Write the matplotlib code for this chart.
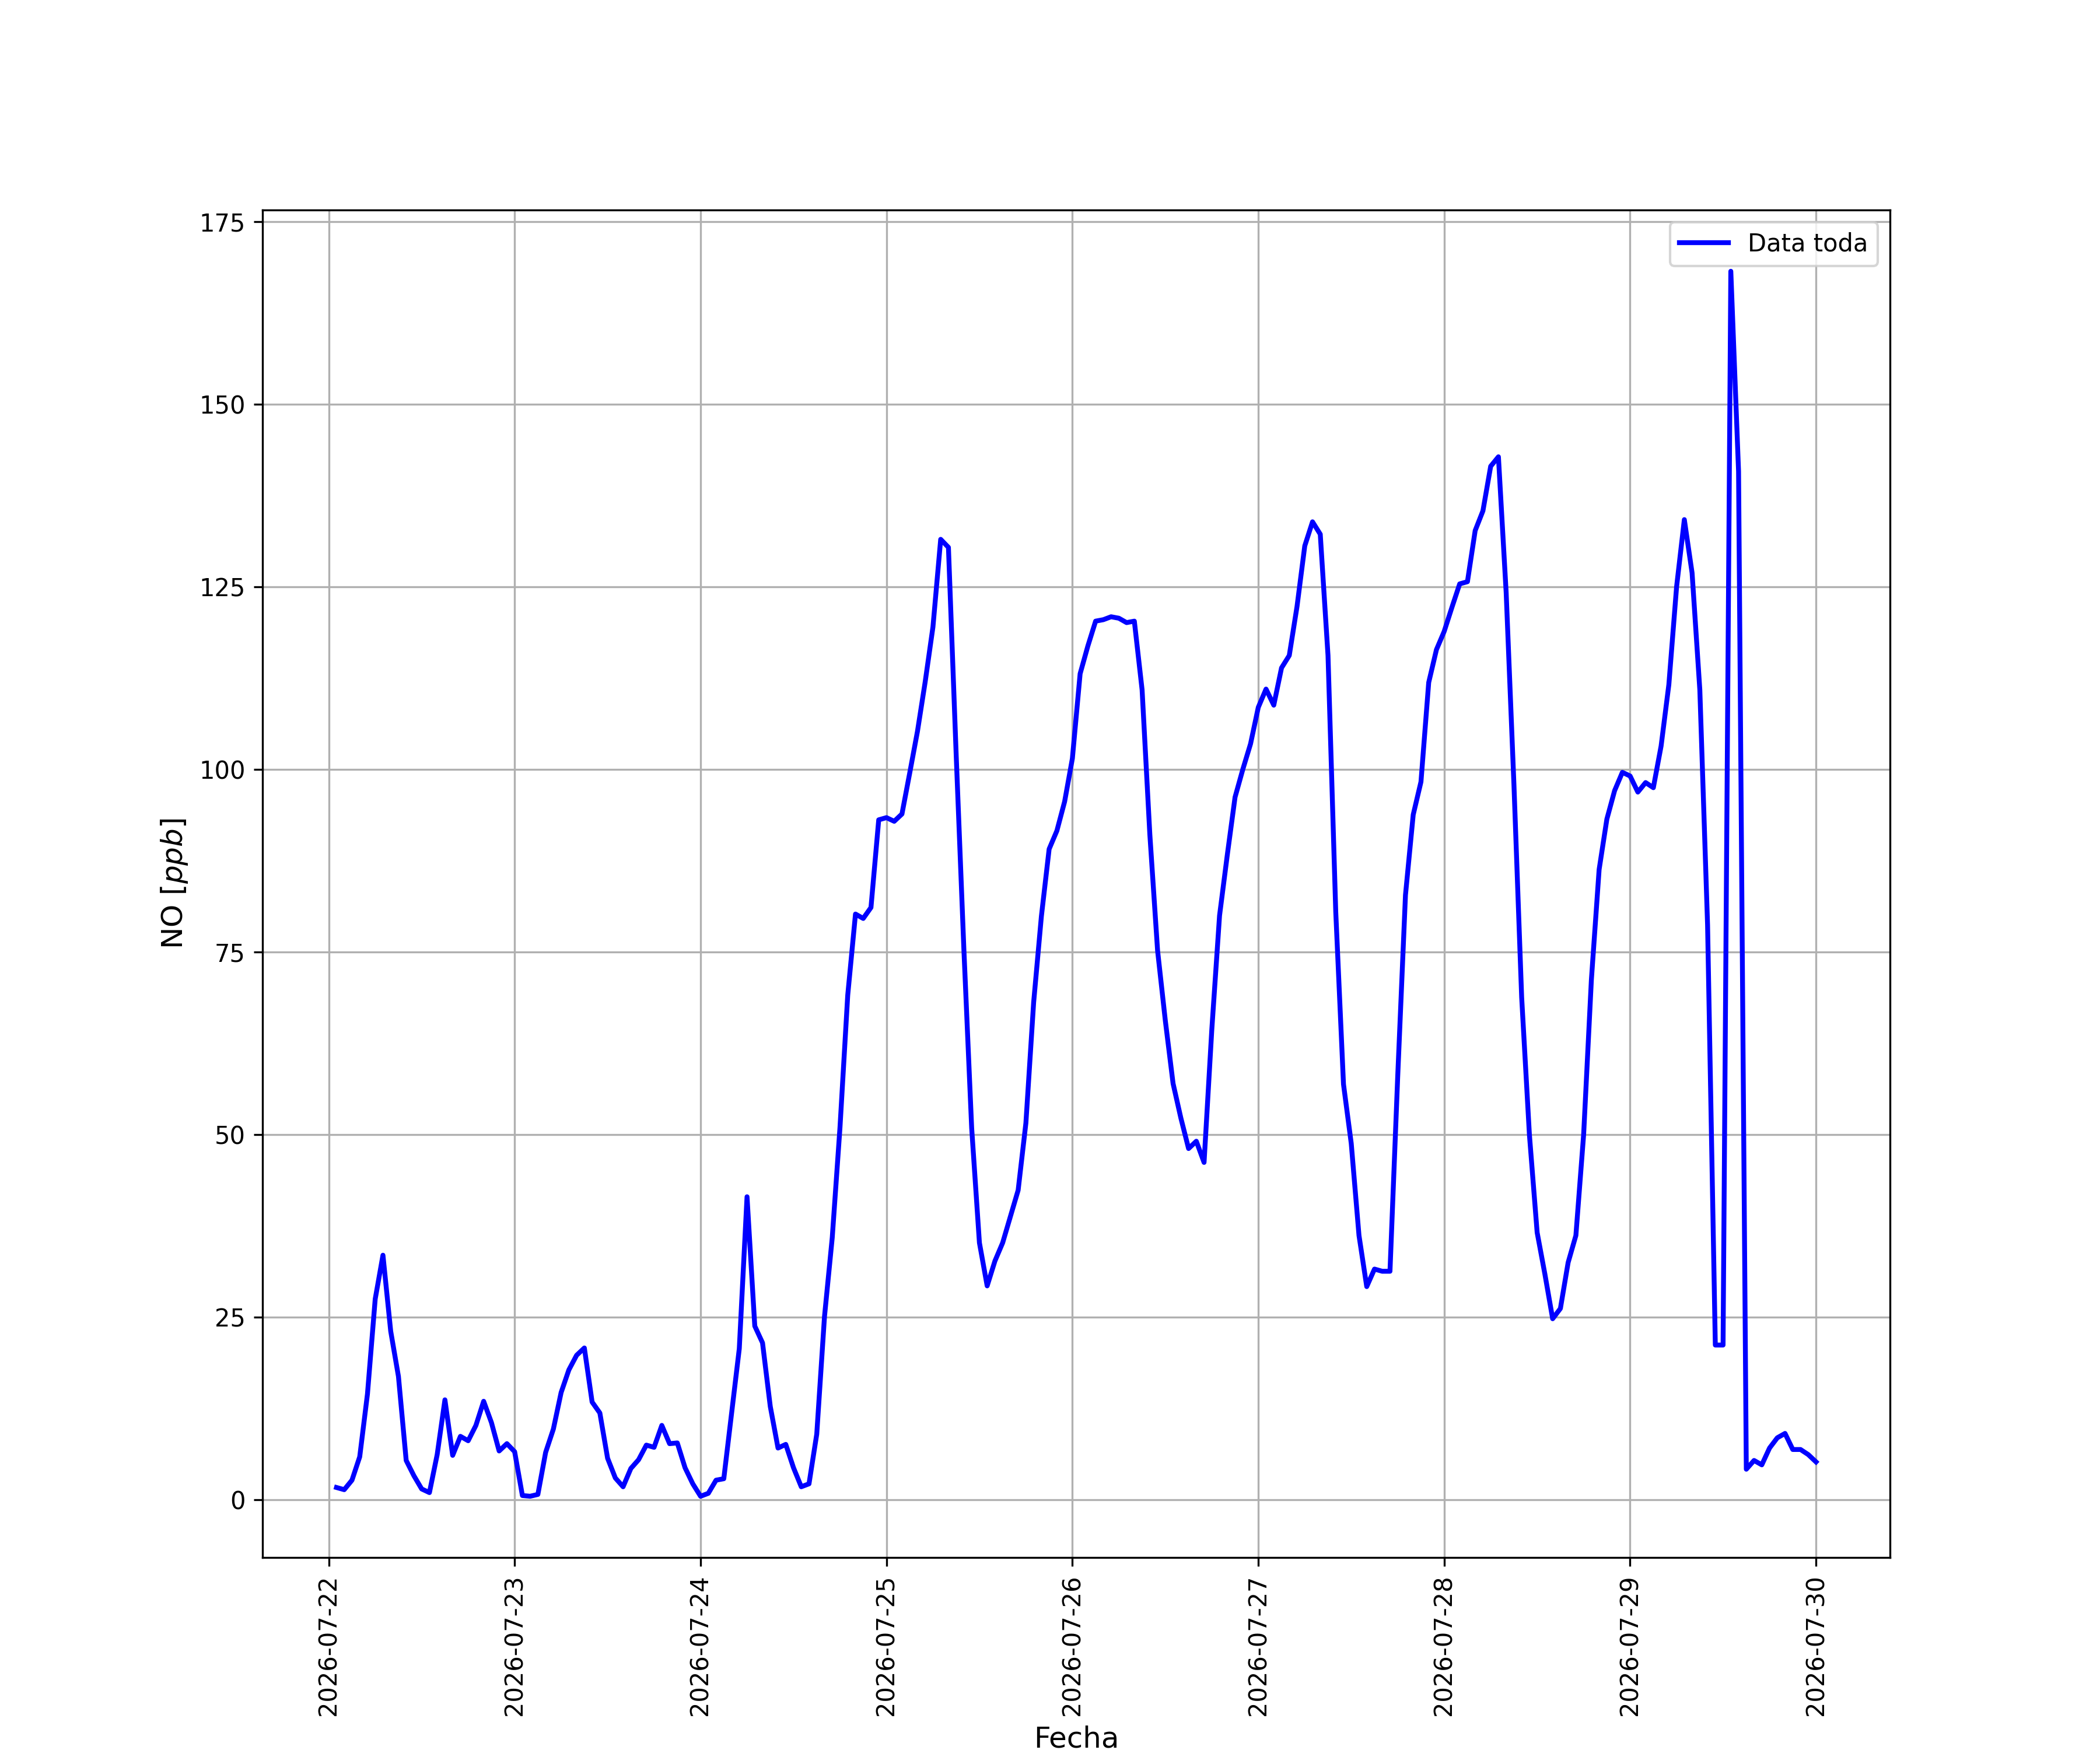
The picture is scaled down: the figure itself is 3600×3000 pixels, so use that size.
import numpy as np
import pandas as pd
import matplotlib
matplotlib.use('Agg')
import matplotlib.pyplot as plt
import matplotlib.dates as mdates

# hourly NO readings, 2026-07-22 01:00 .. 2026-07-30 00:00
no_0722 = [1.7, 1.4, 2.7, 5.9, 14.5, 27.5, 33.5, 23.1, 16.9, 5.4, 3.3, 1.5,
           1.0, 6.2, 13.7, 6.1, 8.7, 8.1, 10.2, 13.5, 10.6, 6.7, 7.7]
no_0723 = [6.6, 0.6, 0.5, 0.75, 6.5, 9.7, 14.7, 17.8, 19.8, 20.8, 13.4, 11.9,
           5.7, 3.0, 1.8, 4.3, 5.5, 7.5, 7.2, 10.2, 7.7, 7.8, 4.4, 2.2]
no_0724 = [0.5, 0.9, 2.7, 2.9, 11.8, 20.7, 41.5, 23.8, 21.5, 12.8, 7.1, 7.6,
           4.4, 1.8, 2.2, 9.0, 25.1, 35.9, 51.0, 69.1, 80.2, 79.6, 81.1, 93.1]
no_0725 = [93.4, 92.9, 93.9, 99.5, 105.2, 112.0, 119.5, 131.5, 130.4, 102.0,
           75.2, 50.9, 35.2, 29.3, 32.7, 35.2, 38.8, 42.4, 51.6, 68.1, 79.9,
           89.1, 91.6, 95.6]
no_0726 = [101.5, 113.1, 116.9, 120.3, 120.5, 120.9, 120.7, 120.1, 120.3,
           110.9, 91.1, 75.2, 65.6, 57.0, 52.3, 48.1, 49.1, 46.2, 64.4, 80.0,
           88.3, 96.2, 100.0, 103.5]
no_0727 = [108.5, 111.0, 108.8, 113.9, 115.6, 122.3, 130.6, 133.9, 132.2,
           115.6, 80.5, 56.9, 48.8, 36.2, 29.2, 31.6, 31.3, 31.3, 58.0, 82.8,
           93.8, 98.3, 111.9, 116.4]
no_0728 = [118.9, 122.2, 125.4, 125.7, 132.7, 135.4, 141.5, 142.8, 124.2, 98.0,
           68.8, 50.0, 36.6, 30.9, 24.8, 26.2, 32.5, 36.2, 50.0, 71.2, 86.3,
           93.2, 97.1, 99.6]
no_0729 = [99.1, 96.9, 98.2, 97.5, 103.2, 111.6, 125.0, 134.2, 126.9, 110.9,
           78.7, 21.2, 21.2, 168.2, 140.8, 4.2, 5.4, 4.8, 7.1, 8.5, 9.1, 6.9,
           6.9, 6.2]
no_0730 = [5.2]

no_vals = (no_0722 + no_0723 + no_0724 + no_0725 + no_0726 + no_0727
           + no_0728 + no_0729 + no_0730)
fechas = pd.date_range('2026-07-22 01:00', periods=len(no_vals), freq='h')

fig, ax = plt.subplots(figsize=(12, 10))
ax.plot(fechas, no_vals, color='b', linewidth=2, label='Data toda')
ax.grid(True)
ax.xaxis.set_major_locator(mdates.DayLocator())
ax.xaxis.set_major_formatter(mdates.DateFormatter('%Y-%m-%d'))
plt.setp(ax.get_xticklabels(), rotation=90)
ax.set_xlabel('Fecha', fontsize=12)
ax.set_ylabel('NO [$ppb$]', fontsize=12)
ax.legend(loc='upper right')
fig.savefig('out.png', dpi=300)
